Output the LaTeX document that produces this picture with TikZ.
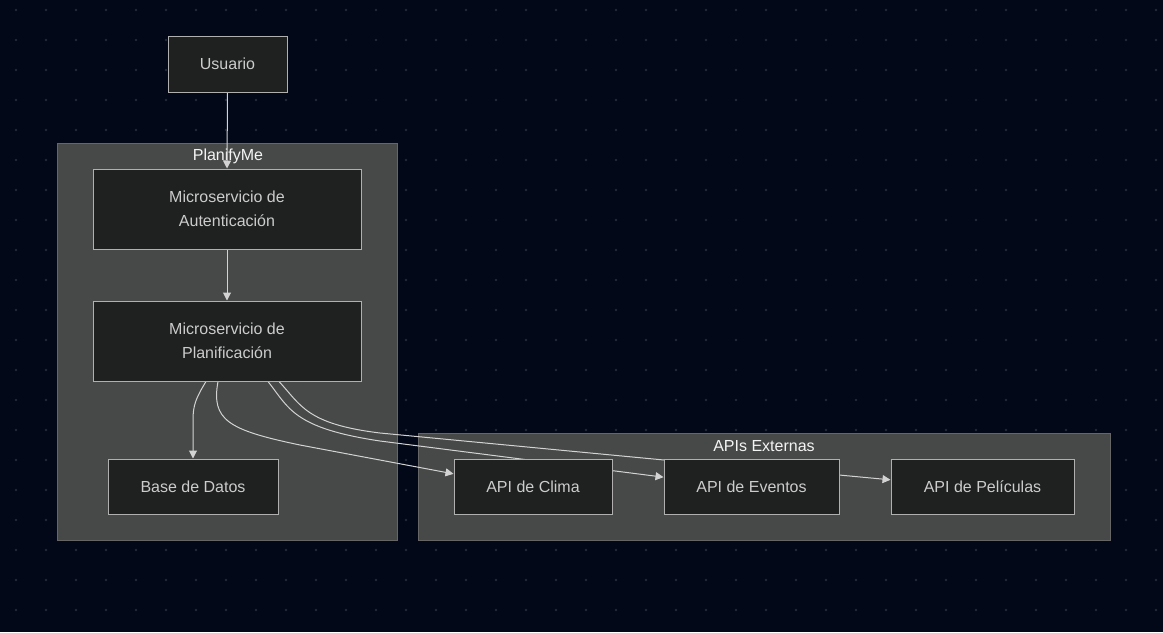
\documentclass[tikz,border=0pt]{standalone}
\usepackage{fontspec}
\setmainfont{Liberation Sans}
\usetikzlibrary{arrows.meta}
\definecolor{bgcol}{HTML}{020817}
\definecolor{dotcol}{HTML}{252A36}
\definecolor{clfill}{HTML}{474848}
\definecolor{clline}{HTML}{666666}
\definecolor{ndfill}{HTML}{1F2020}
\definecolor{ndline}{HTML}{B0B0B0}
\definecolor{ndtext}{HTML}{CCCCCC}
\definecolor{cltext}{HTML}{F4F4F4}
\definecolor{edgecol}{HTML}{D3D3D3}
\pgfdeclarelayer{groups}
\pgfdeclarelayer{links}
\pgfsetlayers{groups,links,main}
\tikzset{
  x=0.75pt, y=-0.75pt,
  box/.style={draw=ndline, fill=ndfill, line width=0.75pt, text=ndtext,
    font=\fontsize{12}{18}\selectfont, align=center, inner sep=0pt},
  cluster/.style={draw=clline, fill=clfill, line width=0.75pt, inner sep=0pt},
  cltitle/.style={text=cltext, font=\fontsize{12}{14}\selectfont, inner sep=0pt},
  link/.style={draw=edgecol, line width=0.75pt, -{Triangle[length=6pt,width=6pt]}},
}
\begin{document}
\begin{tikzpicture}
\begin{pgfonlayer}{groups}
% canvas and dot grid
\fill[bgcol] (0,0) rectangle (1163,632);
\foreach \gx in {16,46,...,1156}
  \foreach \gy in {10,40,...,622}
    \fill[dotcol] (\gx,\gy) circle (1.1pt);
% groups
\node[cluster, minimum width=255pt, minimum height=297.75pt] (gplan) at (227,341.5) {};
\node[cltitle] (gplanlbl) at (228,156.5) {PlanifyMe};
\node[cluster, minimum width=519pt, minimum height=80.25pt] (gapi) at (764,486.5) {};
\node[cltitle] (gapilbl) at (764,446.5) {APIs Externas};
\end{pgfonlayer}
\useasboundingbox (0,0) rectangle (1163,632);

% services
\node[box, minimum width=89.25pt, minimum height=42pt] (user) at (227.5,64) {Usuario};
\node[box, minimum width=201pt, minimum height=60pt] (auth) at (227,209) {Microservicio de\\Autenticación};
\node[box, minimum width=201pt, minimum height=60pt] (plan) at (227,341) {Microservicio de\\Planificación};
\node[box, minimum width=127.5pt, minimum height=41.25pt] (db) at (193,486.5) {Base de Datos};
\node[box, minimum width=118.5pt, minimum height=41.25pt] (clima) at (533,486.5) {API de Clima};
\node[box, minimum width=131.25pt, minimum height=41.25pt] (eventos) at (751.5,486.5) {API de Eventos};
\node[box, minimum width=137.25pt, minimum height=41.25pt] (pelis) at (982.5,486.5) {API de Películas};

% connectors, kept beneath the boxes
\begin{pgfonlayer}{links}
\draw[link] (user.south) -- (auth.north);
\draw[link] (auth.south) -- (plan.north);
\draw[link] ([xshift=-15.75pt]plan.south) .. controls (196,398) and (193,405) .. (193,420) -- (db.north);
\draw[link] ([xshift=-6.75pt]plan.south) .. controls (211,420) and (228,430) .. (300,445) -- ([yshift=9.5pt]clima.west);
\draw[link] ([xshift=30.75pt]plan.south) .. controls (289,408) and (293,428) .. (380,441) -- ([yshift=7pt]eventos.west);
\draw[link] ([xshift=39pt]plan.south) .. controls (301,405) and (306,424) .. (380,433) -- (664,460) -- (839,475) -- ([yshift=5pt]pelis.west);
\end{pgfonlayer}
\end{tikzpicture}
\end{document}
